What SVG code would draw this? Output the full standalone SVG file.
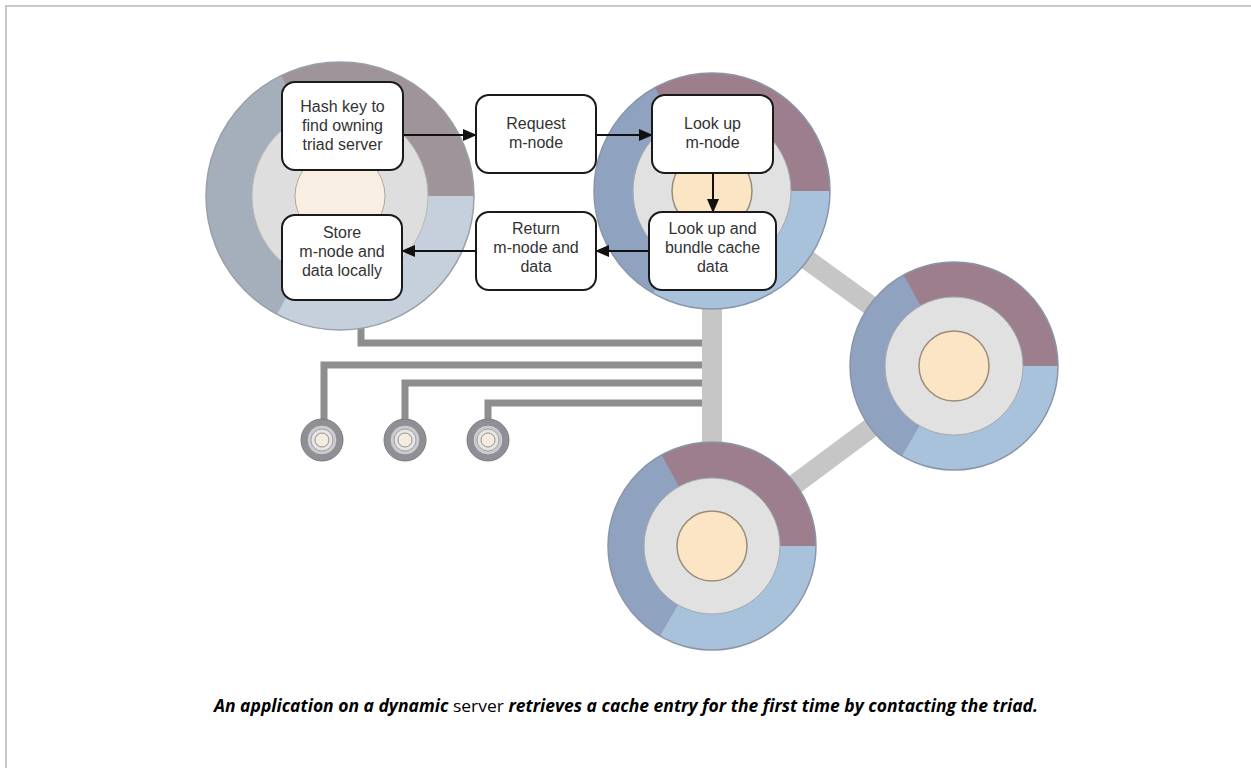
<svg xmlns="http://www.w3.org/2000/svg" width="1251" height="768" viewBox="0 0 1251 768">
<defs>
<style>
.box{fill:#fff;stroke:#1a1a1a;stroke-width:2}
.lbl{font-family:"Liberation Sans",Arial,sans-serif;font-size:16px;fill:#333;text-anchor:middle}
.arr{stroke:#111;stroke-width:2;fill:none;marker-end:url(#ah)}
.bar{stroke:#c6c6c6;stroke-width:20;fill:none}
.wire{stroke:#8e8e8e;stroke-width:7;fill:none}
.slate{fill:#8fa2bf}
.mauve{fill:#9c7e8d}
.light{fill:#a9c2dc}
.ring{fill:#e1e1e1;stroke:#a4a8b0;stroke-width:1}
.core{fill:#fbe5c4;stroke:#9a8c7c;stroke-width:1.5}
.edge{fill:none;stroke:#8a96a8;stroke-width:1.5}
.c-out{fill:#8f9096;stroke:#7c7d84;stroke-width:1}
.c-mid{fill:#cbcbce;stroke:#8a8a90;stroke-width:1}
.c-in{fill:#e6e6e6;stroke:#a0a0a4;stroke-width:1}
.c-core{fill:#f4ecdf;stroke:#9a9088;stroke-width:1}
</style>
<marker id="ah" markerUnits="userSpaceOnUse" markerWidth="14" markerHeight="12" refX="13" refY="6" orient="auto">
<path d="M0 0 L14 6 L0 12 z" fill="#111"/>
</marker>
</defs>
<rect width="1251" height="768" fill="#fff"/>
<path d="M6 768 V6 H1251" fill="none" stroke="#c8c8c8" stroke-width="2"/>

<g id="connectors">
<line class="bar" x1="712" y1="191" x2="712" y2="546"/>
<line class="bar" x1="712" y1="191" x2="954" y2="366"/>
<line class="bar" x1="954" y1="366" x2="712" y2="546"/>
<path class="wire" d="M361 320 V343 H702"/>
<path class="wire" d="M324 430 V365 H702"/>
<path class="wire" d="M405 430 V383 H702"/>
<path class="wire" d="M488 430 V403 H702"/>
</g>

<g id="serverA">
<circle cx="340" cy="196" r="134" fill="#a5afbc"/>
<path d="M340 196 L281.3 75.6 A134 134 0 0 1 474 196 Z" fill="#a0949b"/>
<path d="M340 196 L474 196 A134 134 0 0 1 277.1 314.3 Z" fill="#c6d0dc"/>
<circle cx="340" cy="196" r="134" fill="none" stroke="#9aa0a8" stroke-width="1.5"/>
<circle cx="340" cy="196" r="88" fill="#dedede" stroke="#b8b8b8" stroke-width="1"/>
<circle cx="340" cy="196" r="45" fill="#f8efe2" stroke="#b0a898" stroke-width="1"/>
</g>

<g id="serverB">
<circle cx="712" cy="191" r="118" class="slate"/>
<path d="M712 191 L654.8 87.8 A118 118 0 0 1 830 191 Z" class="mauve"/>
<path d="M712 191 L830 191 A118 118 0 0 1 653 293.2 Z" class="light"/>
<circle cx="712" cy="191" r="118" class="edge"/>
<circle cx="712" cy="191" r="79" class="ring"/>
<circle cx="712" cy="191" r="40" class="core"/>
</g>

<g id="serverD">
<circle cx="954" cy="366" r="104" class="slate"/>
<path d="M954 366 L903.6 275 A104 104 0 0 1 1058 366 Z" class="mauve"/>
<path d="M954 366 L1058 366 A104 104 0 0 1 902 456.1 Z" class="light"/>
<circle cx="954" cy="366" r="104" class="edge"/>
<circle cx="954" cy="366" r="69" class="ring"/>
<circle cx="954" cy="366" r="35" class="core"/>
</g>

<g id="serverE">
<circle cx="712" cy="546" r="104" class="slate"/>
<path d="M712 546 L661.6 455 A104 104 0 0 1 816 546 Z" class="mauve"/>
<path d="M712 546 L816 546 A104 104 0 0 1 660 636.1 Z" class="light"/>
<circle cx="712" cy="546" r="104" class="edge"/>
<circle cx="712" cy="546" r="68" class="ring"/>
<circle cx="712" cy="546" r="35" class="core"/>
</g>

<g id="client1">
<circle cx="322" cy="440" r="21" class="c-out"/>
<circle cx="322" cy="440" r="15" class="c-mid"/>
<circle cx="322" cy="440" r="11" class="c-in"/>
<circle cx="322" cy="440" r="7" class="c-core"/>
</g>
<g id="client2">
<circle cx="405" cy="440" r="21" class="c-out"/>
<circle cx="405" cy="440" r="15" class="c-mid"/>
<circle cx="405" cy="440" r="11" class="c-in"/>
<circle cx="405" cy="440" r="7" class="c-core"/>
</g>
<g id="client3">
<circle cx="488" cy="440" r="21" class="c-out"/>
<circle cx="488" cy="440" r="15" class="c-mid"/>
<circle cx="488" cy="440" r="11" class="c-in"/>
<circle cx="488" cy="440" r="7" class="c-core"/>
</g>

<g id="arrows">
<line class="arr" x1="403" y1="135" x2="476" y2="135"/>
<line class="arr" x1="596" y1="135" x2="652" y2="135"/>
<line class="arr" x1="713" y1="173" x2="713" y2="212"/>
<line class="arr" x1="649" y1="251" x2="596" y2="251"/>
<line class="arr" x1="476" y1="251" x2="402" y2="251"/>
</g>

<g id="box-hash">
<rect class="box" x="282" y="82" width="121" height="88" rx="13"/>
<text class="lbl" x="342.5" y="112">Hash key to</text>
<text class="lbl" x="342.5" y="131">find owning</text>
<text class="lbl" x="342.5" y="150">triad server</text>
</g>
<g id="box-store">
<rect class="box" x="282" y="215" width="120" height="85" rx="13"/>
<text class="lbl" x="342" y="238">Store</text>
<text class="lbl" x="342" y="257">m-node and</text>
<text class="lbl" x="342" y="276">data locally</text>
</g>
<g id="box-request">
<rect class="box" x="476" y="95" width="120" height="78" rx="13"/>
<text class="lbl" x="536" y="129">Request</text>
<text class="lbl" x="536" y="148">m-node</text>
</g>
<g id="box-return">
<rect class="box" x="476" y="212" width="120" height="78" rx="13"/>
<text class="lbl" x="536" y="234">Return</text>
<text class="lbl" x="536" y="253">m-node and</text>
<text class="lbl" x="536" y="272">data</text>
</g>
<g id="box-lookup">
<rect class="box" x="652" y="95" width="121" height="78" rx="13"/>
<text class="lbl" x="712.5" y="129">Look up</text>
<text class="lbl" x="712.5" y="148">m-node</text>
</g>
<g id="box-bundle">
<rect class="box" x="649" y="212" width="127" height="78" rx="13"/>
<text class="lbl" x="712.5" y="234">Look up and</text>
<text class="lbl" x="712.5" y="253">bundle cache</text>
<text class="lbl" x="712.5" y="272">data</text>
</g>

<text x="626" y="712" text-anchor="middle" textLength="824" lengthAdjust="spacingAndGlyphs" font-family="'Open Sans','Liberation Sans',sans-serif" font-size="17" fill="#000" font-weight="bold" font-style="italic">An application on a dynamic <tspan font-weight="normal" font-style="normal">server</tspan> retrieves a cache entry for the first time by contacting the triad.</text>
</svg>
